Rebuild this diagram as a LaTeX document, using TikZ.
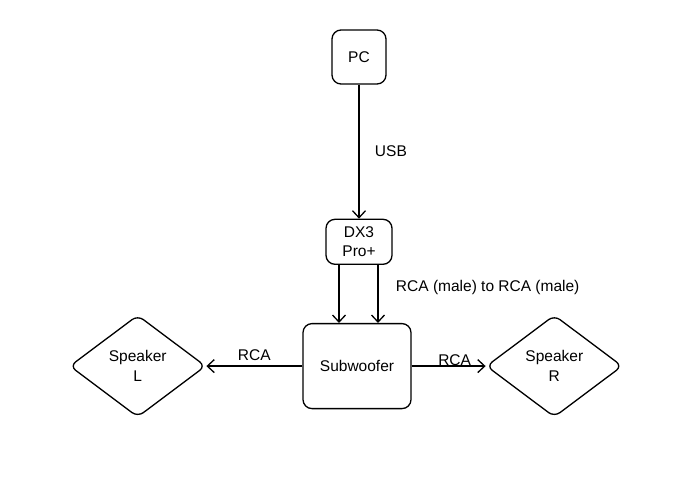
\documentclass[tikz,border=0pt]{standalone}
\usepackage{fontspec}
\setmainfont{Liberation Sans}
\usepackage{tikz}
\usetikzlibrary{arrows.meta,positioning,shapes.geometric}

\begin{document}
\begin{tikzpicture}[
    x=1pt, y=-1pt,
    font=\fontsize{15.5}{19.5}\selectfont,
    box/.style={draw, line width=1.3pt, rounded corners=9pt, align=center, inner sep=0pt},
    spk/.style={draw, diamond, line width=1.3pt, rounded corners=7pt, align=center, inner sep=0pt,
                minimum width=136pt, minimum height=102pt},
    arr/.style={-{Straight Barb[length=7pt, width=13pt]}, line width=1.3pt},
    node distance=6pt
]
\useasboundingbox (0,0) rectangle (690,488);
\node[box, minimum width=54pt, minimum height=54pt] (pc) at (359,57) {PC};
\node[box, minimum width=66pt, minimum height=45pt, below=134pt of pc] (dx) {DX3\\Pro+};
\node[box, minimum width=108pt, minimum height=85pt, below=58pt of dx, xshift=-2pt] (sub) {Subwoofer};
\node[spk, left=96pt of sub] (spkl) {Speaker\\L};
\node[spk, right=74pt of sub] (spkr) {Speaker\\R};

\draw[arr] (pc) -- node[right=12pt]{USB} (dx);
\draw[arr] ([xshift=-20pt]dx.south) -- ([xshift=-20pt]dx.south |- sub.north);
\draw[arr] ([xshift=19pt]dx.south) -- node[right=14pt, yshift=6pt]{RCA (male) to RCA (male)} ([xshift=19pt]dx.south |- sub.north);
\draw[arr] (sub) -- node[above=1pt]{RCA} (spkl);
\draw[arr] (sub) -- node[above=-4pt, xshift=6pt]{RCA} (spkr);
\end{tikzpicture}
\end{document}
